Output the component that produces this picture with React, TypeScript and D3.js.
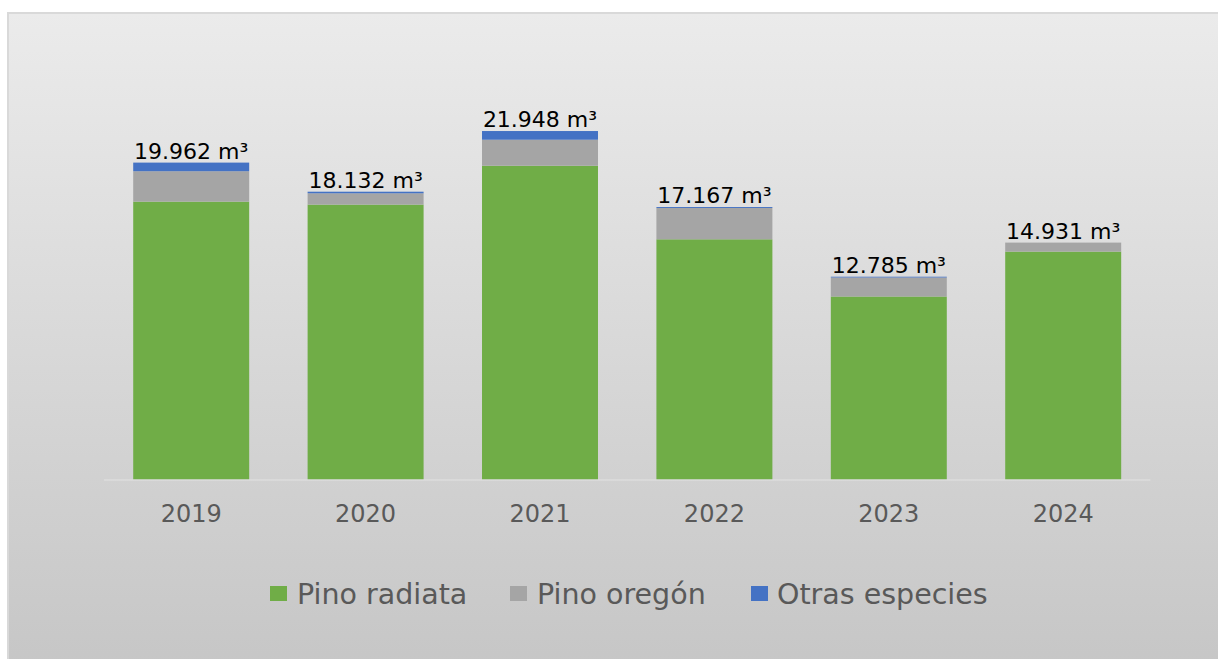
import React from "react";
import * as d3 from "d3";

const years = ["2019", "2020", "2021", "2022", "2023", "2024"];
const pinoRadiata = [17508, 17321, 19765, 15138, 11540, 14365];
const pinoOregon = [1912, 711, 1636, 1969, 1195, 566];
const otrasEspecies = [542, 100, 547, 60, 50, 0];
const seriesNames = ["Pino radiata", "Pino oregón", "Otras especies"];
const seriesColors = ["#70ad47", "#a5a5a5", "#4472c4"];

const W = 1218;
const H = 659;
const FONT = "'DejaVu Sans', Verdana, sans-serif";

const locale = d3.formatLocale({ decimal: ",", thousands: ".", grouping: [3], currency: ["", ""] });
const fmt = locale.format(",d");

export default function App() {
  const rows = years.map((y, i) => ({
    year: y,
    r: pinoRadiata[i],
    o: pinoOregon[i],
    e: otrasEspecies[i],
  }));
  const keys = ["r", "o", "e"];
  const stacked = d3.stack<any>().keys(keys)(rows);

  const x = d3
    .scaleBand<string>()
    .domain(years)
    .range([104, 1150.4])
    .paddingInner(0.335)
    .paddingOuter(0.1675);
  const y = d3.scaleLinear().domain([0, 25000]).range([480, 82.5]);

  const legendItems = [
    { sq: 270, tx: 297 },
    { sq: 510, tx: 537 },
    { sq: 751, tx: 777 },
  ];

  return (
    <svg
      width={W}
      height={H}
      style={{ position: "absolute", left: 0, top: 0, display: "block" }}
    >
      <defs>
        <linearGradient id="bg" x1="0" y1="0" x2="0" y2="1">
          <stop offset="0" stopColor="#ebebeb" />
          <stop offset="1" stopColor="#c6c6c6" />
        </linearGradient>
      </defs>
      <rect x={8} y={13} width={W} height={H} fill="url(#bg)" stroke="#d9d9d9" strokeWidth={2} />

      {stacked.map((layer, si) =>
        layer.map((d, i) => {
          const h = y(d[0]) - y(d[1]);
          if (h <= 0) return null;
          return (
            <rect
              key={`${si}-${i}`}
              x={x(years[i])}
              y={y(d[1])}
              width={x.bandwidth()}
              height={h}
              fill={seriesColors[si]}
            />
          );
        })
      )}

      <line x1={104} x2={1150.4} y1={480} y2={480} stroke="#dcdcdc" strokeWidth={1.5} />

      {rows.map((d, i) => {
        const total = d.r + d.o + d.e;
        return (
          <text
            key={`lbl-${i}`}
            x={(x(d.year) as number) + x.bandwidth() / 2}
            y={y(total) - 4}
            textAnchor="middle"
            fontFamily={FONT}
            fontSize={22}
            fill="#000"
          >
            {fmt(total)} m³
          </text>
        );
      })}

      {years.map((yr) => (
        <text
          key={`ax-${yr}`}
          x={(x(yr) as number) + x.bandwidth() / 2}
          y={522}
          textAnchor="middle"
          fontFamily={FONT}
          fontSize={24}
          fill="#595959"
        >
          {yr}
        </text>
      ))}

      {seriesNames.map((name, i) => (
        <g key={`leg-${i}`}>
          <rect x={legendItems[i].sq} y={586} width={17} height={15} fill={seriesColors[i]} />
          <text
            x={legendItems[i].tx}
            y={604}
            fontFamily={FONT}
            fontSize={28.5}
            fill="#595959"
          >
            {name}
          </text>
        </g>
      ))}
    </svg>
  );
}
